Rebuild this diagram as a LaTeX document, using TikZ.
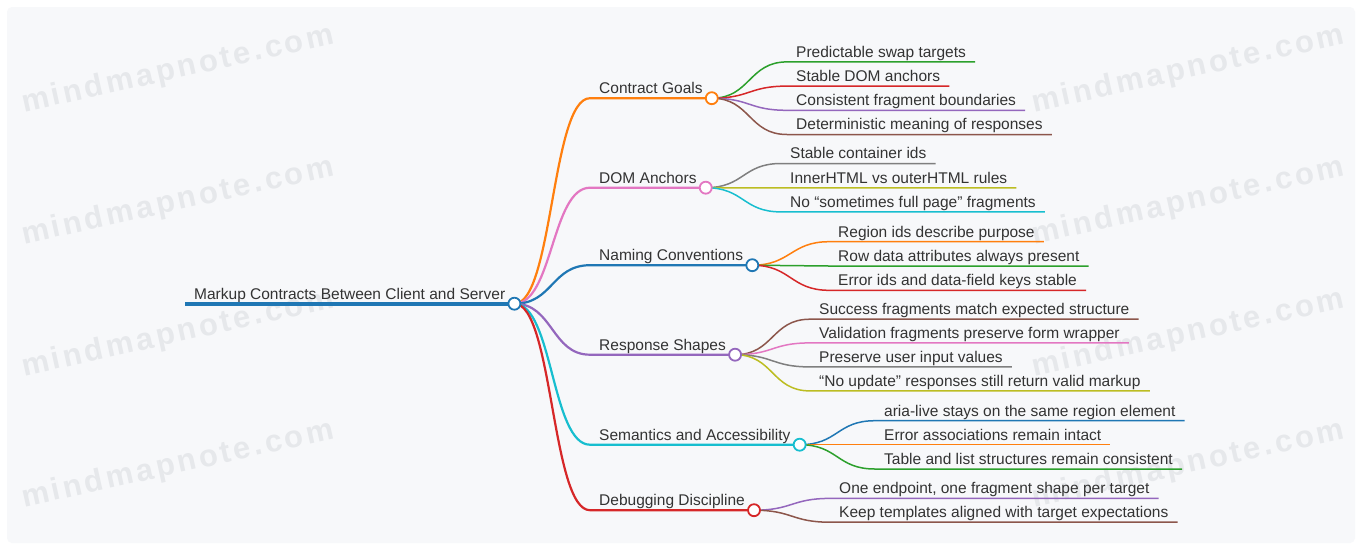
\documentclass[tikz,border=0pt]{standalone}
\usepackage{fontspec}
\setmainfont{Liberation Sans}
\newfontfamily\wmfont[LetterSpace=10]{Liberation Sans}

\definecolor{mmblue}{HTML}{1F77B4}
\definecolor{mmorange}{HTML}{FF7F0E}
\definecolor{mmgreen}{HTML}{2CA02C}
\definecolor{mmred}{HTML}{D62728}
\definecolor{mmpurple}{HTML}{9467BD}
\definecolor{mmbrown}{HTML}{8C564B}
\definecolor{mmpink}{HTML}{E377C2}
\definecolor{mmgray}{HTML}{7F7F7F}
\definecolor{mmolive}{HTML}{BCBD22}
\definecolor{mmcyan}{HTML}{17BECF}
\definecolor{inkgray}{HTML}{333333}
\definecolor{paper}{HTML}{F7F8FA}
\definecolor{wmgray}{HTML}{E6E8EB}

\tikzset{
  topic/.style={anchor=base west, inner xsep=9pt, inner ysep=0pt, text height=11pt,
    text depth=4.5pt, text=inkgray, font=\fontsize{15.5}{18}\selectfont},
  knob/.style={circle, draw=#1, fill=white, line width=1.8pt, minimum size=12pt, inner sep=0pt},
  rootline/.style={line width=4pt},
  mainline/.style={line width=2.2pt},
  leafline/.style={line width=1.5pt},
  watermark/.style={rotate=12.5, text=wmgray, font=\wmfont\bfseries\fontsize{31}{33}\selectfont},
}

\begin{document}
\begin{tikzpicture}[x=1pt,y=-1pt]
\useasboundingbox (0,0) rectangle (1362,550);
\fill[white] (0,0) rectangle (1362,550);
\fill[paper, rounded corners=5pt] (7,7) rectangle (1355,543);
% watermark
\foreach \wx in {178,1188}
  \foreach \wy in {70,202,334,465}
    \node[watermark] (wm-\wx-\wy) at (\wx,\wy) {mindmapnote.com};

% root and main topics
\node[topic] (root) at (185,299) {Markup Contracts Between Client and Server};
\node[topic] (goals) at (590,93.5) {Contract Goals};
\node[topic] (anchors) at (590,183) {DOM Anchors};
\node[topic] (naming) at (590,260.5) {Naming Conventions};
\node[topic] (shapes) at (590,350) {Response Shapes};
\node[topic] (access) at (590,440) {Semantics and Accessibility};
\node[topic] (debug) at (590,505.5) {Debugging Discipline};

% leaves
\node[topic] (g1) at (787,57.2) {Predictable swap targets};
\node[topic] (g2) at (787,81.4) {Stable DOM anchors};
\node[topic] (g3) at (787,105.6) {Consistent fragment boundaries};
\node[topic] (g4) at (787,129.8) {Deterministic meaning of responses};
\node[topic] (a1) at (781,158.8) {Stable container ids};
\node[topic] (a2) at (781,183.2) {InnerHTML vs outerHTML rules};
\node[topic] (a3) at (781,207.2) {No “sometimes full page” fragments};
\node[topic] (n1) at (829,237) {Region ids describe purpose};
\node[topic] (n2) at (829,261.3) {Row data attributes always present};
\node[topic] (n3) at (829,285.6) {Error ids and data-field keys stable};
\node[topic] (s1) at (810,314.5) {Success fragments match expected structure};
\node[topic] (s2) at (810,338.2) {Validation fragments preserve form wrapper};
\node[topic] (s3) at (810,362.2) {Preserve user input values};
\node[topic] (s4) at (810,386.2) {“No update” responses still return valid markup};
\node[topic] (c1) at (875,416) {aria-live stays on the same region element};
\node[topic] (c2) at (875,440) {Error associations remain intact};
\node[topic] (c3) at (875,464.3) {Table and list structures remain consistent};
\node[topic] (d1) at (830,493.7) {One endpoint, one fragment shape per target};
\node[topic] (d2) at (830,517.5) {Keep templates aligned with target expectations};

% root to main topics
\draw[mmblue, rootline] (root.south west) -- (root.south east);
\draw[mmorange, mainline] (root.south east) .. controls +(38.5,0) and +(-38.5,0) .. (goals.south west) -- (goals.south east);
\draw[mmpink, mainline] (root.south east) .. controls +(38.5,0) and +(-38.5,0) .. (anchors.south west) -- (anchors.south east);
\draw[mmblue, mainline] (root.south east) .. controls +(38.5,0) and +(-38.5,0) .. (naming.south west) -- (naming.south east);
\draw[mmpurple, mainline] (root.south east) .. controls +(38.5,0) and +(-38.5,0) .. (shapes.south west) -- (shapes.south east);
\draw[mmcyan, mainline] (root.south east) .. controls +(38.5,0) and +(-38.5,0) .. (access.south west) -- (access.south east);
\draw[mmred, mainline] (root.south east) .. controls +(38.5,0) and +(-38.5,0) .. (debug.south west) -- (debug.south east);

% main topics to leaves
\draw[mmgreen, leafline] (goals.south east) .. controls +(38.5,0) and +(-38.5,0) .. (g1.south west) -- (g1.south east);
\draw[mmred, leafline] (goals.south east) .. controls +(38.5,0) and +(-38.5,0) .. (g2.south west) -- (g2.south east);
\draw[mmpurple, leafline] (goals.south east) .. controls +(38.5,0) and +(-38.5,0) .. (g3.south west) -- (g3.south east);
\draw[mmbrown, leafline] (goals.south east) .. controls +(38.5,0) and +(-38.5,0) .. (g4.south west) -- (g4.south east);
\draw[mmgray, leafline] (anchors.south east) .. controls +(38.5,0) and +(-38.5,0) .. (a1.south west) -- (a1.south east);
\draw[mmolive, leafline] (anchors.south east) .. controls +(38.5,0) and +(-38.5,0) .. (a2.south west) -- (a2.south east);
\draw[mmcyan, leafline] (anchors.south east) .. controls +(38.5,0) and +(-38.5,0) .. (a3.south west) -- (a3.south east);
\draw[mmorange, leafline] (naming.south east) .. controls +(38.5,0) and +(-38.5,0) .. (n1.south west) -- (n1.south east);
\draw[mmgreen, leafline] (naming.south east) .. controls +(38.5,0) and +(-38.5,0) .. (n2.south west) -- (n2.south east);
\draw[mmred, leafline] (naming.south east) .. controls +(38.5,0) and +(-38.5,0) .. (n3.south west) -- (n3.south east);
\draw[mmbrown, leafline] (shapes.south east) .. controls +(38.5,0) and +(-38.5,0) .. (s1.south west) -- (s1.south east);
\draw[mmpink, leafline] (shapes.south east) .. controls +(38.5,0) and +(-38.5,0) .. (s2.south west) -- (s2.south east);
\draw[mmgray, leafline] (shapes.south east) .. controls +(38.5,0) and +(-38.5,0) .. (s3.south west) -- (s3.south east);
\draw[mmolive, leafline] (shapes.south east) .. controls +(38.5,0) and +(-38.5,0) .. (s4.south west) -- (s4.south east);
\draw[mmblue, leafline] (access.south east) .. controls +(38.5,0) and +(-38.5,0) .. (c1.south west) -- (c1.south east);
\draw[mmorange, leafline] (access.south east) .. controls +(38.5,0) and +(-38.5,0) .. (c2.south west) -- (c2.south east);
\draw[mmgreen, leafline] (access.south east) .. controls +(38.5,0) and +(-38.5,0) .. (c3.south west) -- (c3.south east);
\draw[mmpurple, leafline] (debug.south east) .. controls +(38.5,0) and +(-38.5,0) .. (d1.south west) -- (d1.south east);
\draw[mmbrown, leafline] (debug.south east) .. controls +(38.5,0) and +(-38.5,0) .. (d2.south west) -- (d2.south east);

% knobs
\node[knob=mmblue] (root-k) at (root.south east) {};
\node[knob=mmorange] (goals-k) at (goals.south east) {};
\node[knob=mmpink] (anchors-k) at (anchors.south east) {};
\node[knob=mmblue] (naming-k) at (naming.south east) {};
\node[knob=mmpurple] (shapes-k) at (shapes.south east) {};
\node[knob=mmcyan] (access-k) at (access.south east) {};
\node[knob=mmred] (debug-k) at (debug.south east) {};
\end{tikzpicture}
\end{document}
